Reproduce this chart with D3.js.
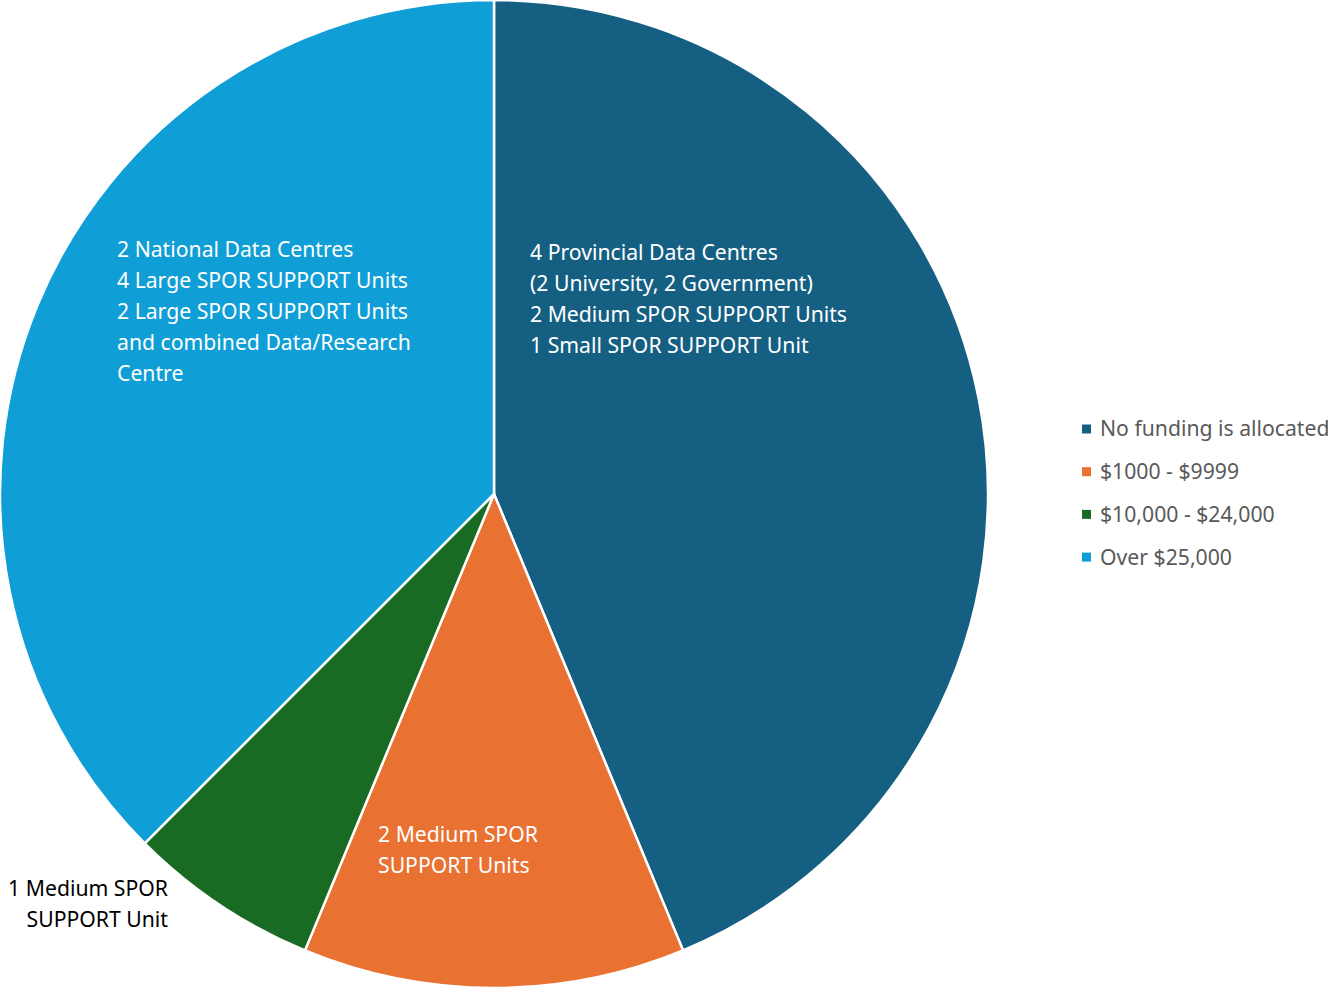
<!DOCTYPE html>
<html>
<head>
<meta charset="utf-8">
<script src="https://cdn.jsdelivr.net/npm/d3@7"></script>
<style>
  body { margin: 0; background: #fff; }
  svg text { font-family: "Noto Sans", Lato, sans-serif; }
</style>
</head>
<body>
<svg id="chart" width="1328" height="988"></svg>
<script>
// data
var categories = ["No funding is allocated", "$1000 - $9999", "$10,000 - $24,000", "Over $25,000"];
var counts = [7, 2, 1, 6];
var sliceLabels = [
    ["4 Provincial Data Centres", "(2 University, 2 Government)", "2 Medium SPOR SUPPORT Units", "1 Small SPOR SUPPORT Unit"],
    ["2 Medium SPOR", "SUPPORT Units"],
    ["1 Medium SPOR", "SUPPORT Unit"],
    ["2 National Data Centres", "4 Large SPOR SUPPORT Units", "2 Large SPOR SUPPORT Units", "and combined Data/Research", "Centre"]
];
var colors = ["#156082", "#E97132", "#196B24", "#0F9ED5"];

// label placement (layout only)
var labelPos = [
    {x: 530, y: 253, anchor: "start", fill: "#fff"},
    {x: 378, y: 835, anchor: "start", fill: "#fff"},
    {x: 168, y: 889, anchor: "end", fill: "#000"},
    {x: 117, y: 250, anchor: "start", fill: "#fff"}
];

var svg = d3.select("#chart");
var cx = 494, cy = 494, radius = 494;
var lineH = 30.8;
var fontSize = "21.2px";

var data = categories.map(function(c, i) {
    return {name: c, value: counts[i], color: colors[i], lines: sliceLabels[i], pos: labelPos[i]};
});

var pie = d3.pie().sort(null).value(function(d) { return d.value; });
var arc = d3.arc().innerRadius(0).outerRadius(radius);

var g = svg.append("g").attr("transform", "translate(" + cx + "," + cy + ")");

g.selectAll("path")
    .data(pie(data))
    .enter()
    .append("path")
    .attr("d", arc)
    .attr("fill", function(d) { return d.data.color; })
    .attr("stroke", "#fff")
    .attr("stroke-width", 2.5)
    .attr("stroke-linejoin", "round");

// slice labels
data.forEach(function(d) {
    var t = svg.append("text")
        .attr("text-anchor", d.pos.anchor)
        .attr("fill", d.pos.fill)
        .style("font-size", fontSize);
    d.lines.forEach(function(line, k) {
        t.append("tspan")
            .attr("x", d.pos.x)
            .attr("y", d.pos.y + k * lineH)
            .attr("dy", "0.35em")
            .text(line);
    });
});

// legend
var legend = svg.append("g").attr("transform", "translate(1082,429)");
var rows = legend.selectAll("g")
    .data(data)
    .enter()
    .append("g")
    .attr("transform", function(d, i) { return "translate(0," + (i * 42.7) + ")"; });

rows.append("rect")
    .attr("x", 0)
    .attr("y", -4.5)
    .attr("width", 9)
    .attr("height", 9)
    .attr("fill", function(d) { return d.color; });

rows.append("text")
    .attr("x", 18)
    .attr("y", 0)
    .attr("dy", "0.35em")
    .attr("fill", "#595959")
    .style("font-size", fontSize)
    .text(function(d) { return d.name; });
</script>
</body>
</html>
